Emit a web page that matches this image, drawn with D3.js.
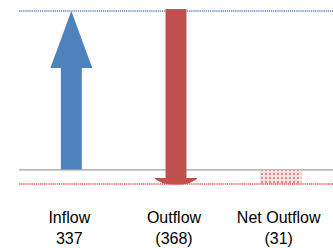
<!DOCTYPE html>
<html>
<head>
<meta charset="utf-8">
<script src="https://cdn.jsdelivr.net/npm/d3@7"></script>
<style>
  body { margin: 0; background: #fff; }
  text { font-family: "Liberation Sans", Arial, sans-serif; font-size: 16px; fill: #000; }
</style>
</head>
<body>
<div id="chart"></div>
<script>
// data
var categories = ["Inflow", "Outflow", "Net Outflow"];
var valueLabels = ["337", "(368)", "(31)"];
var inflow = 337;
var outflow = 368;
var netOutflow = inflow - outflow; // -31

var W = 333, H = 248;

var svg = d3.select("#chart")
  .append("svg")
  .attr("width", W)
  .attr("height", H);

var x = d3.scaleBand()
  .domain(categories)
  .range([19, 333]);

var y = d3.scaleLinear()
  .domain([netOutflow, inflow])
  .range([184, 11]);

var bw = x.bandwidth();
var shaftW = bw * 0.2;
var headW = bw * 0.4;

// pattern for net outflow
var defs = svg.append("defs");
var pat = defs.append("pattern")
  .attr("id", "dots")
  .attr("width", 4)
  .attr("height", 4)
  .attr("patternUnits", "userSpaceOnUse");
pat.append("rect").attr("width", 4).attr("height", 4).style("fill", "#f7e0e0");
pat.append("rect").attr("x", 1).attr("y", 1).attr("width", 2).attr("height", 2).style("fill", "#dc8e8e");

// reference lines
svg.append("line")
  .attr("x1", 19).attr("x2", W)
  .attr("y1", y(inflow)).attr("y2", y(inflow))
  .style("stroke", "#4F81BD")
  .style("stroke-width", 1.6)
  .style("stroke-dasharray", "1.2,0.9");

svg.append("line")
  .attr("x1", 19).attr("x2", W)
  .attr("y1", y(0) + 0.5).attr("y2", y(0) + 0.5)
  .style("stroke", "#868686")
  .style("stroke-width", 1);

// net outflow box
var nx = x("Net Outflow") + bw / 2;
svg.append("rect")
  .attr("x", nx - headW / 2)
  .attr("y", y(0) + 0.5)
  .attr("width", headW)
  .attr("height", y(netOutflow) - y(0))
  .style("fill", "url(#dots)");

// inflow arrow (up)
var ix = x("Inflow") + bw / 2;
var headH = bw * 0.545;
var upPts = [
  [ix - shaftW / 2, y(0)],
  [ix - shaftW / 2, y(inflow) + headH],
  [ix - headW / 2, y(inflow) + headH],
  [ix, y(inflow)],
  [ix + headW / 2, y(inflow) + headH],
  [ix + shaftW / 2, y(inflow) + headH],
  [ix + shaftW / 2, y(0)]
];
svg.append("polygon")
  .attr("points", upPts.map(function(p){ return p.join(","); }).join(" "))
  .style("fill", "#4F81BD");

// outflow arrow (down)
var ox = x("Outflow") + bw / 2;
var yTop = y(inflow) - 2;
var yEnd = y(inflow - outflow) + 0.5;
var hh = 6.5;
var downPts = [
  [ox - shaftW / 2, yTop],
  [ox + shaftW / 2, yTop],
  [ox + shaftW / 2, yEnd - hh],
  [ox + headW * 0.52, yEnd - hh],
  [ox + headW * 0.47, yEnd - hh + 2],
  [ox + headW * 0.3, yEnd - 1],
  [ox + headW * 0.12, yEnd],
  [ox - headW * 0.12, yEnd],
  [ox - headW * 0.3, yEnd - 1],
  [ox - headW * 0.47, yEnd - hh + 2],
  [ox - headW * 0.52, yEnd - hh],
  [ox - shaftW / 2, yEnd - hh]
];
svg.append("polygon")
  .attr("points", downPts.map(function(p){ return p.join(","); }).join(" "))
  .style("fill", "#C0504D");

// red dotted line
svg.append("line")
  .attr("x1", 19).attr("x2", W)
  .attr("y1", y(netOutflow)).attr("y2", y(netOutflow))
  .style("stroke", "#E8474A")
  .style("stroke-width", 1.6)
  .style("stroke-dasharray", "1.2,0.9");

// labels
svg.selectAll(".cat")
  .data(categories)
  .enter()
  .append("text")
  .attr("class", "cat")
  .attr("x", function(d){ return x(d) + bw / 2 - 2; })
  .attr("y", 223)
  .attr("text-anchor", "middle")
  .text(function(d){ return d; });

svg.selectAll(".val")
  .data(valueLabels)
  .enter()
  .append("text")
  .attr("class", "val")
  .attr("x", function(d, i){ return x(categories[i]) + bw / 2 - 2; })
  .attr("y", 244)
  .attr("text-anchor", "middle")
  .text(function(d){ return d; });
</script>
</body>
</html>
